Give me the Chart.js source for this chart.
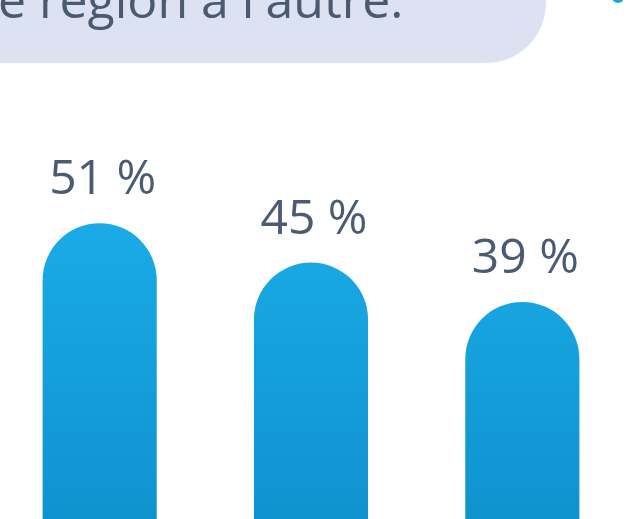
<!DOCTYPE html>
<html>
<head>
<meta charset="utf-8">
<script src="https://cdn.jsdelivr.net/npm/chart.js@4"></script>
<style>
  html, body { margin: 0; padding: 0; background: #fff; }
  body { width: 641px; height: 519px; overflow: hidden; position: relative; font-family: "Open Sans", Lato, sans-serif; }
  #note {
    position: absolute; left: -120px; top: -120px; width: 666px; height: 183px;
    background: #dde2f2; border-radius: 0 0 60px 0;
  }
  #noteText {
    position: absolute; left: -2px; top: 14px; transform: translateY(-80%);
    font-size: 50px; font-weight: 400; color: #4a5a70; line-height: 1; white-space: nowrap;
  }
  #dot { position: absolute; left: 612px; top: -9px; width: 12px; height: 12px; border-radius: 50%; background: #1aa7e0; }
  #wrap { position: absolute; left: -6px; top: 0; width: 634px; height: 560px; }
</style>
</head>
<body>
<div id="note"></div>
<div id="noteText">e région à l'autre.</div>
<div id="dot"></div>
<div id="wrap"><canvas id="myChart" width="634" height="560"></canvas></div>
<script>
const categories = ['A', 'B', 'C'];
const shares = [51, 45, 39];

// value labels drawn above each bar
const valueLabels = {
  id: 'valueLabels',
  afterDatasetsDraw(chart) {
    const ctx = chart.ctx;
    const meta = chart.getDatasetMeta(0);
    ctx.save();
    ctx.font = '500 48px "Open Sans", sans-serif';
    ctx.fillStyle = '#4a5b73';
    ctx.textAlign = 'center';
    ctx.textBaseline = 'alphabetic';
    meta.data.forEach((bar, i) => {
      ctx.fillText(shares[i] + ' %', bar.x + 3, bar.y - 29);
    });
    ctx.restore();
  }
};

const ctx = document.getElementById('myChart').getContext('2d');
const grad = ctx.createLinearGradient(0, 220, 0, 519);
grad.addColorStop(0, '#1aabe6');
grad.addColorStop(1, '#0f93cf');

const myChart = new Chart(ctx, {
  type: 'bar',
  data: {
    labels: categories,
    datasets: [{
      data: shares,
      backgroundColor: grad,
      borderWidth: 0,
      borderRadius: { topLeft: 57, topRight: 57, bottomLeft: 0, bottomRight: 0 },
      borderSkipped: 'bottom',
      barPercentage: 0.54,
      categoryPercentage: 1
    }]
  },
  options: {
    responsive: false,
    animation: false,
    layout: { padding: { top: 0, bottom: 2, left: 0, right: 0 } },
    plugins: { legend: { display: false }, tooltip: { enabled: false } },
    scales: {
      x: { display: false },
      y: { display: false, min: 0, max: 85 }
    }
  },
  plugins: [valueLabels]
});
</script>
</body>
</html>
